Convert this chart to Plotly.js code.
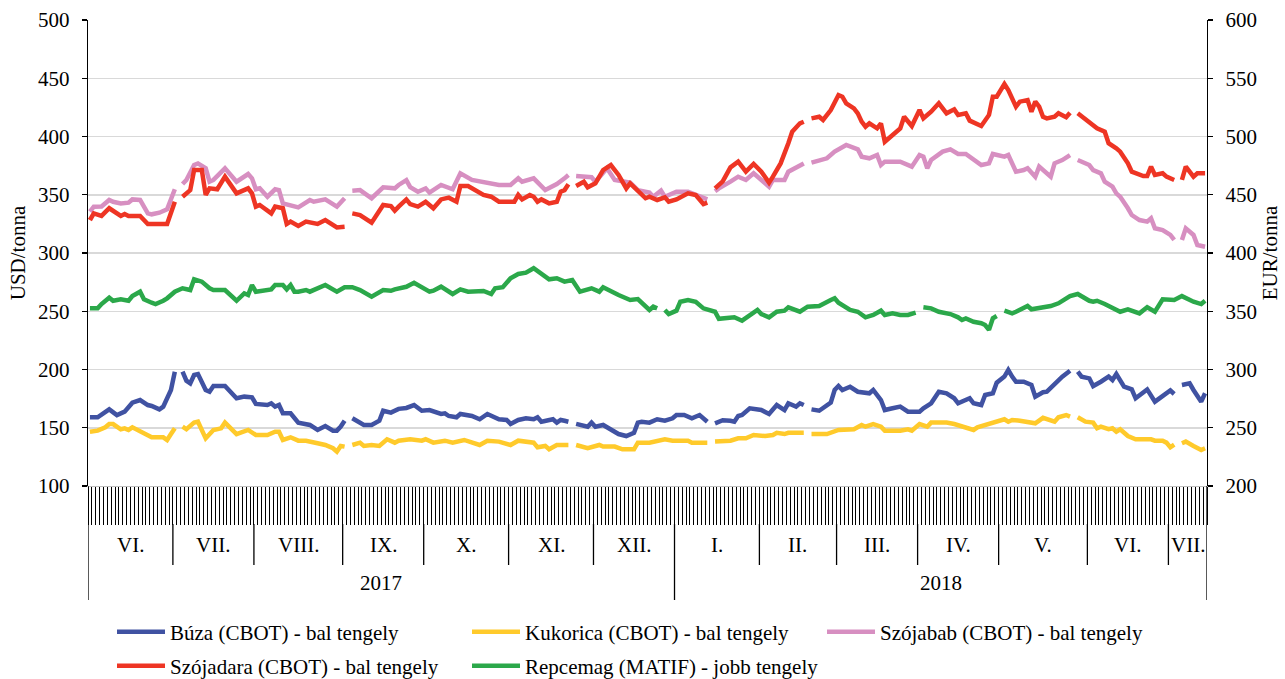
<!DOCTYPE html>
<html><head><meta charset="utf-8">
<script src="https://cdn.plot.ly/plotly-3.0.1.min.js"></script>
<style>html,body{margin:0;padding:0;background:#fff}#chart{width:1285px;height:679px}</style>
</head><body><div id="chart"></div>
<script>
// ---- axis categories (trading days per month) ----
const months = ['VI.','VII.','VIII.','IX.','X.','XI.','XII.','I.','II.','III.','IV.','V.','VI.','VII.'];
const monthDays = [22,21,23,21,22,22,21,22,20,21,21,23,21,10];
const years = ['2017','2018'];
const yearMonthCount = [7,7];

// ---- series (trading-day index, value); null = no quotation ----
const buzaDays = [0,2,5,7,9,11,13,15,16,18,19,21,22,23,24,25,26,27,28,30,31,32,35,38,40,42,43,46,47,48,49,50,52,54,57,59,61,63,64,65,66,67,68,71,73,75,76,78,80,82,84,86,88,91,92,93,95,96,99,101,103,106,108,109,111,113,115,116,117,120,121,122,123,124,125,126,129,130,131,133,135,137,139,141,142,143,145,147,149,151,152,154,156,158,160,161,162,164,166,167,168,169,171,174,176,178,180,181,183,184,185,186,187,189,192,193,194,195,197,199,202,203,205,206,208,210,212,215,216,218,220,222,224,225,228,229,231,232,234,235,237,238,239,240,242,244,245,247,248,250,252,254,255,256,257,259,260,262,264,265,266,268,270,271,274,276,278,280,281,282,283,285,286,288,289];
const buzaValues = [159,159,165.8,160.9,163.8,171.5,173.8,169.5,168.7,165.8,168.1,182.4,198.1,null,198.1,190.4,188.1,195.3,196.1,182.4,180.9,185.8,185.8,175.3,176.7,176.1,170.4,169.5,171,168.1,169.5,162.4,162.4,154.4,152.4,148.1,151.5,147.5,147.5,151,156,null,158.1,152.4,152.4,156,164.6,163,166.2,167,169.5,164.6,165.2,161.8,162.4,160.1,159,161.8,160.1,157.3,161.8,157.3,156.7,153.3,156.7,158.1,157.3,159,155.2,157.3,154.4,156.7,156,155.2,null,153.3,150.9,154.4,150.9,152.4,148.1,144.6,142.9,145.7,154.4,155.2,154.4,157.3,156,158.1,160.9,160.9,158.1,160.9,155.2,null,153.8,156.5,156,155.2,160.1,160.9,166.7,165.2,161.8,169.5,165.2,171,168.1,171,169.5,null,165.8,164.6,171.5,182.4,185.8,182.4,185.2,180.9,179.6,182.4,173.8,165.2,166.7,168.1,163.8,163.8,166.7,171,180.9,179.6,175.3,171,175.3,171,169.5,178.1,179.6,188.7,193.9,199.6,193.9,189.5,189.5,186.7,176.7,180.5,181,188.1,193.9,199,null,198.1,193.9,192.4,185.8,189.5,193.9,191,196.1,185.2,182.9,175.3,182.9,172.4,177.3,182,179,null,186.7,188.1,182.4,172.4,179.6];

const kukoricaDays = [0,2,4,5,6,8,9,10,11,14,16,19,20,21,22,23,24,25,27,28,30,32,34,35,38,41,43,46,48,49,50,52,54,56,59,61,63,64,65,66,67,68,70,71,73,75,77,79,80,83,86,87,89,92,94,97,101,103,106,109,111,115,116,118,119,121,124,125,126,129,132,133,136,138,141,142,145,149,151,155,156,160,161,162,166,168,170,172,175,177,178,180,181,185,186,187,191,194,198,200,201,203,205,206,210,212,213,215,217,218,222,224,227,229,230,232,235,237,238,239,241,243,245,247,249,250,251,253,254,255,256,258,260,261,262,264,265,266,267,269,271,275,276,278,279,280,281,282,283,284,286,288,289];
const kukoricaValues = [146.6,147.5,150.4,153.2,153.2,148.7,149.5,148.1,150.4,145.2,141.8,141.8,139.5,144.6,149.5,null,150.9,148.7,154.4,155.2,140.9,148.1,149.5,154.4,144.6,148.1,143.8,143.8,146.6,146.6,139.5,141.8,138.9,138.9,136.7,135.2,132.4,129.5,134.4,133.8,null,135.2,137.2,134.4,135.2,134.4,140.1,137.2,138.9,140.1,138.9,140.1,137.2,138.9,137.2,139.5,135.2,138.9,138.1,135.2,138.9,137.2,133.2,134.4,131.5,135.2,135.2,null,135.2,132.4,135.2,133.8,133.8,131.5,131.5,137.2,137.2,140.1,138.9,138.9,137.2,137.2,null,138.1,138.9,140.9,140.9,143.8,142.9,143.8,145.7,144.6,145.7,145.7,null,144.6,144.6,148.1,148.7,152.4,150.9,153.2,150.9,147.5,147.5,148.7,147.5,153.2,150.9,154.4,154.4,153.2,150.4,148.1,150.4,152.4,155.2,157.3,155.2,156.7,156,155.2,153.8,158.5,156.5,155.2,159,160.9,159.5,null,159,155.2,154.4,149.5,150.9,148.7,149.5,146.6,148.7,142.9,140.1,140.1,138.9,138.9,137.2,133.2,135.5,null,136.7,138.1,134.4,130.9,132.4];

const szojababDays = [0,1,3,5,6,8,10,11,13,15,16,18,20,21,22,23,24,25,27,28,30,31,32,35,38,41,42,43,44,46,48,49,50,54,57,58,61,64,66,67,68,70,73,76,79,80,82,83,85,87,88,91,94,96,99,101,103,106,109,111,112,115,118,121,123,124,125,126,130,131,134,136,140,142,145,146,148,149,152,155,158,160,161,162,163,166,168,170,172,176,177,180,181,185,186,187,191,193,196,199,200,202,204,205,206,210,213,215,216,217,218,221,223,225,227,231,233,234,237,238,240,242,243,245,246,249,250,252,254,255,256,259,260,262,263,265,266,267,269,270,272,274,275,276,278,280,281,282,283,284,286,287,289];
const szojababValues = [335.5,339.8,340,345.5,344,342.6,343.2,346,345.5,334,333.2,334.6,337.5,345.5,354.7,null,359.2,362.7,375.5,376.9,372.7,361.2,362.7,372.7,361.2,367.8,364.1,354.7,355.5,348.3,354.7,354,342.6,339.2,345.5,344,346,339.8,347,null,353.5,354,347,356.4,355.5,358.4,362.5,356.5,352.6,355.5,351.8,358.4,354.7,368.4,362.7,361.2,360.4,358.4,358.4,364.1,361.2,364.1,354,359.2,364.1,367,null,366.1,365,361.2,372.7,362.7,360.4,354,351.8,348.3,353.5,348.3,352.6,352.6,348.3,346,null,353,355.5,361.2,365.5,362.7,368.4,356.9,362.7,362.7,369.8,376.9,null,377.5,381.3,387,392.7,389,382.7,381.3,384.1,375.5,378.4,378.4,374.1,384.1,382.7,372.7,379.8,387,389,385,385,375.5,376.9,385,382.7,384.1,369.8,371.2,372.7,365.5,374.1,365.5,377,379.8,384.1,null,379.8,375.5,371.2,368.4,361.2,356.9,351.2,348.3,338.4,332.6,328.3,326.9,329.8,321.2,319.7,315.5,311.2,null,311.2,321.2,315.5,306.9,305.4];

const szojadaraDays = [0,1,3,5,8,9,10,13,15,20,22,23,24,26,27,29,30,31,33,35,38,41,42,43,44,47,48,50,51,52,54,56,59,61,64,66,67,68,70,73,76,78,79,80,82,83,85,87,89,91,93,95,96,98,100,102,104,106,110,111,112,114,115,116,117,119,121,122,123,124,125,126,128,129,131,133,135,137,139,140,142,144,145,147,149,150,152,155,157,159,160,161,162,164,166,168,170,172,174,176,177,179,181,182,184,185,186,187,189,190,192,194,195,196,198,199,200,201,202,204,205,206,210,211,213,215,216,218,220,222,224,225,227,228,231,233,234,235,237,238,240,241,243,244,245,246,247,248,250,251,253,254,255,256,259,261,263,264,266,267,269,270,273,274,275,276,278,279,281,282,283,284,286,287,289];
const szojadaraValues = [328.3,334,331.8,338.4,331.8,333.5,331.8,331.8,324.9,324.9,344,null,348.3,354,371.2,371.2,349.8,355.5,354.7,365.5,351.2,355.5,351.2,339.8,341.2,334,339.8,338.4,324.9,326.9,323.2,326.9,324.9,328.3,322,322.6,null,334,332.6,326,341.2,340.3,336.3,339.8,346,342,339.8,344,338.4,346,347.5,344,357.5,357.5,354,349.8,348.3,344,344,349.8,346,349.8,348.3,344,346,342.6,344,352.6,354,359,null,357.5,361.2,356.4,359.8,371.2,375.5,367,355.5,359.8,354,347,348.3,345.5,347.8,344,346,351.2,349.8,342,343.2,null,355.5,361.5,373.5,378.4,369.8,376.4,369.8,360.4,365.5,376.9,394.2,404.1,411.3,412.7,null,415.6,417,414.2,422.7,435.6,434.2,428.5,424.2,419.9,412.7,408.4,411.3,407,411.3,395.5,407,417,409,422.7,415.6,421.3,428.5,419.9,423.3,418.5,419.9,413.6,409,418.5,434.2,434.2,445.1,439.9,425.6,429.9,431.3,421.3,429.9,425.6,417,415.6,417,419.9,416.5,420.4,null,419.9,412.7,407,404.1,394.2,389.9,387,377,369.8,366.1,366.1,374.1,367,368.4,365.5,362.7,null,362.7,374.1,365.5,368.4,368.4];

const repcemagDays = [0,2,3,5,6,8,10,11,13,14,16,17,19,20,22,24,26,27,29,31,32,35,38,40,41,42,43,45,47,48,50,51,52,53,54,56,57,61,64,66,68,70,73,76,78,79,82,84,86,88,89,91,94,96,98,102,104,105,107,109,111,113,115,117,119,121,123,125,127,130,132,133,135,137,140,142,145,146,147,148,149,150,152,153,155,157,159,162,163,166,167,169,171,173,174,176,178,180,181,184,186,189,192,193,194,197,199,201,203,205,206,208,210,212,214,215,216,218,220,223,225,226,227,229,231,232,233,234,235,236,237,239,240,243,244,246,247,249,251,252,254,256,259,260,261,263,266,267,269,272,274,276,278,281,283,286,288,289];
const repcemagValues = [352.5,352.5,356.2,361.6,359,360.2,359,363,366.8,360.2,357.3,356.2,359,361.1,366.8,369.7,368.2,377.4,375.4,369.7,368.2,368.2,359,365.4,363.9,372.5,366.8,368.2,368.8,372.5,372.5,368.8,372.5,366.8,366.8,368.2,366.8,372.5,366.8,370.6,370.6,368.2,362.5,368.2,367.6,368.8,371,374.5,370.6,366.8,367.6,371.1,364.8,368.8,366.8,367.4,364.8,369.7,370.6,378.3,382,383.1,386.9,382,377.4,378.3,375.4,376.8,366.8,369.7,366.8,370.6,366.8,363.9,359.7,360.5,351.1,353.9,352.5,null,351.1,347.6,350.5,358.2,359.7,358.2,352.5,349.6,343.5,345,344.8,341.9,346.8,351.1,347.6,344.8,349.6,350.5,353.4,349.6,353.9,354.5,359.7,361.1,357.3,351.1,349.6,344.8,346.8,350.5,346.8,348.2,346.8,346.8,348.8,null,353.4,352.5,349.6,347.6,344.8,342.5,343.9,341,339.7,338.2,334,343.9,345.9,null,350.5,348.2,349.6,354.5,351.7,352.5,353.4,354.5,356.8,359,363,364.8,359,358.2,359,356.2,351.7,349.6,351.7,348.2,353.4,349.6,360.2,359.7,363,358.2,356.2,359];

// ---- geometry helpers (plot area in pixels) ----
const W = 1285, H = 679, PL = 88, PR = 1207, PT = 20, PB = 486;
const py = p => (PB - p) / (PB - PT);          // pixel row -> paper y
const cy = p => 1 - p / H;                      // pixel row -> container y
const FONT = '"Liberation Serif", "Times New Roman", Times, serif';
const nDays = monthDays.reduce((a, b) => a + b, 0);

const starts = [];
monthDays.reduce((acc, n) => { starts.push(acc); return acc + n; }, 0);

const shapes = [];
const annotations = [];
const blk = {color: '#000', width: 1.3};
// month separators + labels
let yearBoundaryMonth = yearMonthCount[0];
months.forEach((m, i) => {
  const s = starts[i], e = s + monthDays[i];
  annotations.push({x: (s + e) / 2 - 0.5, xref: 'x', y: py(545), yref: 'paper', text: m,
    showarrow: false, xanchor: 'center', yanchor: 'middle', font: {size: 21, family: FONT, color: '#000'}});
  if (i > 0) {
    const isYear = (i === yearBoundaryMonth);
    shapes.push({type: 'line', xref: 'x', yref: 'paper', x0: s - 0.5, x1: s - 0.5,
      y0: py(524), y1: py(isYear ? 600 : 565), line: blk});
  }
});
// outer year lines
[-0.5, nDays - 0.5].forEach(xv => shapes.push({type: 'line', xref: 'x', yref: 'paper',
  x0: xv, x1: xv, y0: 0, y1: py(600), line: blk}));
// year labels
let mAcc = 0;
years.forEach((yname, k) => {
  const s = starts[mAcc];
  const lastM = mAcc + yearMonthCount[k] - 1;
  const e = starts[lastM] + monthDays[lastM];
  annotations.push({x: (s + e) / 2 - 0.5, xref: 'x', y: py(583), yref: 'paper', text: yname,
    showarrow: false, xanchor: 'center', yanchor: 'middle', font: {size: 21, family: FONT, color: '#000'}});
  mAcc += yearMonthCount[k];
});

const mk = (name, x, y, color, axis, leg) => ({
  type: 'scatter', mode: 'lines', name, x, y, yaxis: axis, legend: leg,
  connectgaps: false, line: {color, width: 4.5}, hoverinfo: 'skip'
});

const data = [
  mk('Búza (CBOT) - bal tengely', buzaDays, buzaValues, '#4052A2', 'y', 'legend'),
  mk('Kukorica (CBOT) - bal tengely', kukoricaDays, kukoricaValues, '#FFCA2B', 'y', 'legend'),
  mk('Szójabab (CBOT) - bal tengely', szojababDays, szojababValues, '#D78FC1', 'y', 'legend'),
  mk('Szójadara (CBOT) - bal tengely', szojadaraDays, szojadaraValues, '#EE3524', 'y', 'legend2'),
  mk('Repcemag (MATIF) - jobb tengely', repcemagDays, repcemagValues, '#2BA84A', 'y2', 'legend2')
];

const legendBase = {orientation: 'h', xref: 'container', yref: 'container', x: 112 / W, xanchor: 'left',
  yanchor: 'middle', font: {size: 21, family: FONT, color: '#000'}, itemwidth: 48,
  entrywidth: 292, entrywidthmode: 'pixels', bgcolor: 'rgba(0,0,0,0)', borderwidth: 0,
  itemclick: false, itemdoubleclick: false, traceorder: 'normal'};

const layout = {
  width: W, height: H,
  margin: {l: PL, r: W - PR, t: PT, b: H - PB, pad: 0},
  paper_bgcolor: '#fff', plot_bgcolor: '#fff',
  font: {family: FONT, size: 21, color: '#000'},
  showlegend: true,
  xaxis: {type: 'linear', range: [-0.5, nDays - 0.5], tickmode: 'linear', tick0: -0.5, dtick: 1,
    ticks: 'outside', ticklen: 38, tickwidth: 1, tickcolor: '#000', showticklabels: false,
    showgrid: false, zeroline: false, showline: true, linecolor: '#bfbfbf', linewidth: 1, fixedrange: true},
  yaxis: {range: [100, 500], tickmode: 'linear', tick0: 100, dtick: 50, ticks: 'outside', ticklen: 5,
    tickwidth: 1.3, tickcolor: '#000', showline: true, linecolor: '#000', linewidth: 1.3,
    gridcolor: '#d9d9d9', gridwidth: 1.5, zeroline: false, automargin: false, ticklabelstandoff: 8,
    tickfont: {size: 21, family: FONT, color: '#000'},
    title: {text: 'USD/tonna', font: {size: 21, family: FONT, color: '#000'}, standoff: 6}},
  yaxis2: {range: [200, 600], overlaying: 'y', side: 'right', tickmode: 'linear', tick0: 200, dtick: 50,
    ticks: 'outside', ticklen: 5, tickwidth: 1.3, tickcolor: '#000', showline: true, linecolor: '#000',
    linewidth: 1.3, showgrid: false, zeroline: false, automargin: false, ticklabelstandoff: 8,
    tickfont: {size: 21, family: FONT, color: '#000'},
    title: {text: 'EUR/tonna', font: {size: 21, family: FONT, color: '#000'}, standoff: 6}},
  legend: Object.assign({}, legendBase, {y: cy(632)}),
  legend2: Object.assign({}, legendBase, {y: cy(666)}),
  shapes, annotations
};

Plotly.newPlot('chart', data, layout, {displayModeBar: false, staticPlot: true});
</script></body></html>
